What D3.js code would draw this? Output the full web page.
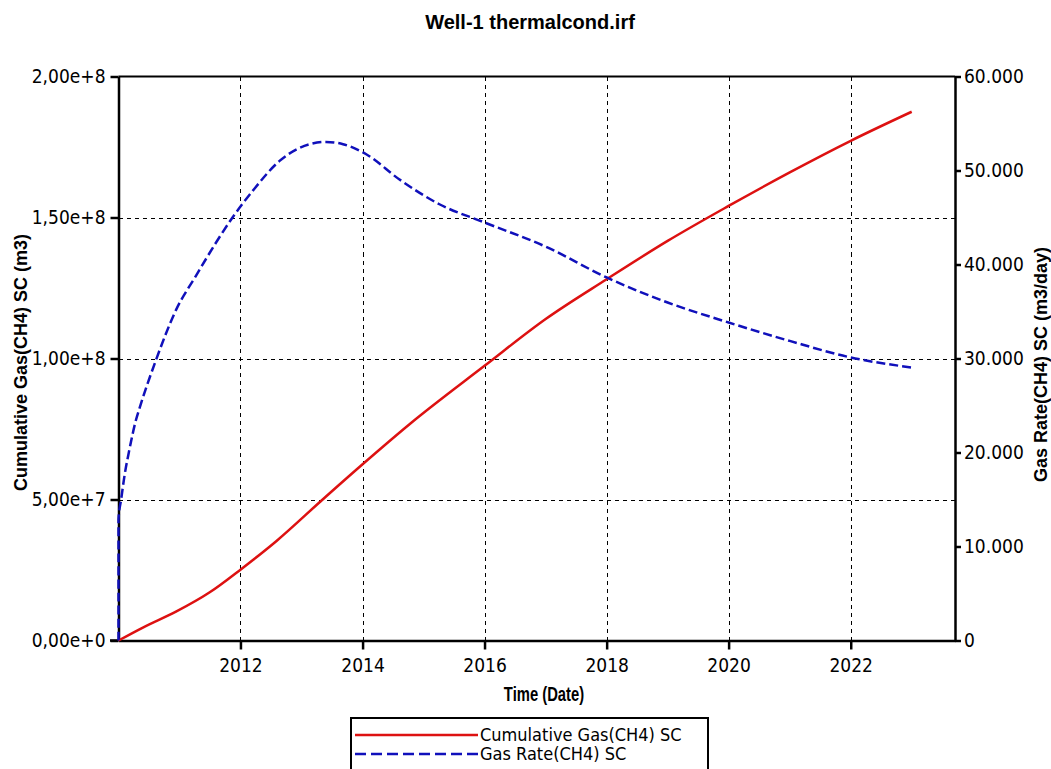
<!DOCTYPE html>
<html>
<head>
<meta charset="utf-8">
<script src="https://cdn.jsdelivr.net/npm/d3@7"></script>
<style>
  html, body { margin: 0; padding: 0; background: #fff; }
  svg { display: block; }
  .tick-label { font-family: "DejaVu Sans Condensed", "Liberation Sans", sans-serif; font-size: 19px; fill: #000; }
  .axis-title { font-family: "Liberation Sans", Arial, sans-serif; font-weight: bold; font-size: 18px; fill: #000; }
  .bold-label { font-family: "Liberation Sans", Arial, sans-serif; font-weight: bold; fill: #000; }
</style>
</head>
<body>
<svg id="chart" width="1051" height="769"></svg>
<script>
// Simulation output for Well-1 (thermal conductivity case)
const chartTitle = "Well-1 thermalcond.irf";

// Cumulative gas (CH4) at surface conditions, m3 — time in decimal years
const cumTimes  = [2010.0, 2010.4, 2010.95, 2011.49, 2012.01, 2012.59, 2013.35, 2014.0, 2014.77,
                   2016.0, 2017.0, 2018.0, 2019.0, 2020.0, 2021.0, 2022.0, 2023.0];
const cumValues = [0, 4.6e6, 1.03e7, 1.70e7, 2.53e7, 3.53e7, 5.01e7, 6.25e7, 7.67e7,
                   9.74e7, 1.14e8, 1.281e8, 1.417e8, 1.541e8, 1.66e8, 1.772e8, 1.875e8];

// Gas rate (CH4) at surface conditions, m3/day
const rateTimes  = [2010.0, 2010.0, 2010.044, 2010.098, 2010.18, 2010.29, 2010.34, 2010.62, 2010.95,
                    2011.27, 2011.6, 2011.87, 2012.2, 2012.64, 2013.13, 2013.4, 2013.68, 2014.06,
                    2014.6, 2015.26, 2016.0, 2017.0, 2018.0, 2019.0, 2020.0, 2021.0, 2022.0, 2023.0];
const rateValues = [0, 12900, 15030, 17510, 20350, 23540, 24610, 29930, 35250,
                    38790, 42340, 45000, 47830, 51020, 52800, 53040, 52800, 51730,
                    49070, 46410, 44470, 41900, 38620, 35960, 33830, 31870, 30110, 29040];

// Axis ticks
const yearTicks = [2012, 2014, 2016, 2018, 2020, 2022];
const cumTicks  = [0, 5e7, 1e8, 1.5e8, 2e8];
const rateTicks = [0, 10000, 20000, 30000, 40000, 50000, 60000];

const legendLabels = ["Cumulative Gas(CH4) SC", "Gas Rate(CH4) SC"];

// decimal year -> Date
function yearToDate(y) {
  const yr = Math.floor(y);
  const start = new Date(yr, 0, 1), end = new Date(yr + 1, 0, 1);
  return new Date(start.getTime() + (y - yr) * (end - start));
}

const svg = d3.select("#chart");
const plot = { left: 118.5, right: 955, top: 76.5, bottom: 640.5 };

const x = d3.scaleTime()
  .domain([yearToDate(2010), yearToDate(2023.71)])
  .range([plot.left, plot.right]);
const yCum = d3.scaleLinear().domain([0, 2e8]).range([plot.bottom, plot.top]);
const yRate = d3.scaleLinear().domain([0, 60000]).range([plot.bottom, plot.top]);

// Title
svg.append("text")
  .attr("class", "bold-label")
  .attr("x", 530).attr("y", 29)
  .attr("text-anchor", "middle")
  .style("font-size", "20px")
  .text(chartTitle);

// Grid lines
const grid = svg.append("g").attr("stroke", "#000").attr("stroke-width", 1)
  .attr("stroke-dasharray", "4,4").attr("shape-rendering", "crispEdges");
grid.selectAll("line.v").data(yearTicks).join("line")
  .attr("x1", d => Math.round(x(yearToDate(d))) + 0.5).attr("x2", d => Math.round(x(yearToDate(d))) + 0.5)
  .attr("y1", plot.top).attr("y2", plot.bottom);
grid.selectAll("line.h").data(cumTicks.filter(d => d > 0 && d < 2e8)).join("line")
  .attr("x1", plot.left).attr("x2", plot.right)
  .attr("y1", d => Math.round(yCum(d)) + 0.5).attr("y2", d => Math.round(yCum(d)) + 0.5);

// Axes
const fmtCum = d => d3.format(".2e")(d).replace(".", ",");
const fmtRate = d => d === 0 ? "0" : d3.format(",")(d).replace(",", ".");

function styleAxis(g) {
  g.select(".domain").attr("stroke", "#000").attr("stroke-width", 2.5);
  g.selectAll(".tick line").attr("stroke", "#000").attr("stroke-width", 2.5);
  g.selectAll(".tick text").attr("class", "tick-label").attr("fill", "#000");
}

svg.append("g")
  .attr("transform", `translate(${plot.left},0)`)
  .call(d3.axisLeft(yCum).tickValues(cumTicks).tickFormat(fmtCum).tickSizeInner(8).tickSizeOuter(0).tickPadding(5))
  .call(styleAxis);

svg.append("g")
  .attr("transform", `translate(${plot.right},0)`)
  .call(d3.axisRight(yRate).tickValues(rateTicks).tickFormat(fmtRate).tickSizeInner(6).tickSizeOuter(0).tickPadding(3))
  .call(styleAxis);

const xAxis = svg.append("g")
  .attr("transform", `translate(0,${plot.bottom})`)
  .call(d3.axisBottom(x).tickValues(yearTicks.map(yearToDate)).tickFormat(d3.timeFormat("%Y")).tickSizeInner(9).tickSizeOuter(0).tickPadding(9))
  .call(styleAxis);
// extend bottom axis line left past the corner
xAxis.append("line").attr("x1", 110).attr("x2", plot.left).attr("y1", 0).attr("y2", 0)
  .attr("stroke", "#000").attr("stroke-width", 2.5);

// top frame line
svg.append("line").attr("x1", plot.left).attr("x2", plot.right)
  .attr("y1", plot.top).attr("y2", plot.top).attr("stroke", "#000").attr("stroke-width", 2);

// Axis titles
svg.append("text").attr("class", "axis-title")
  .attr("transform", `translate(27,${(plot.top + plot.bottom) / 2 + 4}) rotate(-90)`)
  .attr("text-anchor", "middle")
  .text("Cumulative Gas(CH4) SC (m3)");

svg.append("text").attr("class", "axis-title")
  .attr("transform", `translate(1047,${(plot.top + plot.bottom) / 2 + 6}) rotate(-90)`)
  .attr("text-anchor", "middle")
  .text("Gas Rate(CH4) SC (m3/day)");

svg.append("text").attr("class", "bold-label")
  .attr("transform", "translate(544,701) scale(0.74,1)")
  .attr("text-anchor", "middle")
  .style("font-size", "20px")
  .text("Time (Date)");

// Series
const cumLine = d3.line().x(d => x(yearToDate(d[0]))).y(d => yCum(d[1])).curve(d3.curveMonotoneX);
const rateLine = d3.line().x(d => x(yearToDate(d[0]))).y(d => yRate(d[1])).curve(d3.curveMonotoneX);

svg.append("path")
  .datum(cumTimes.map((t, i) => [t, cumValues[i]]))
  .attr("fill", "none").attr("stroke", "#dd1111").attr("stroke-width", 2.5)
  .attr("d", cumLine);

svg.append("path")
  .datum(rateTimes.map((t, i) => [t, rateValues[i]]))
  .attr("fill", "none").attr("stroke", "#1010bb").attr("stroke-width", 2.5)
  .attr("stroke-dasharray", "9,4")
  .attr("d", rateLine);

// Legend
const legend = svg.append("g");
legend.append("rect")
  .attr("x", 351).attr("y", 718).attr("width", 357).attr("height", 60)
  .attr("fill", "#fff").attr("stroke", "#000").attr("stroke-width", 2);
const legendStyles = [
  { color: "#dd1111", dash: null },
  { color: "#1010bb", dash: "11,5" }
];
legendLabels.forEach((label, i) => {
  const yy = 735 + i * 19;
  legend.append("line")
    .attr("x1", 355).attr("x2", 478).attr("y1", yy).attr("y2", yy)
    .attr("stroke", legendStyles[i].color).attr("stroke-width", 2.5)
    .attr("stroke-dasharray", legendStyles[i].dash);
  legend.append("text").attr("class", "tick-label")
    .attr("x", 480).attr("y", yy + 6)
    .style("font-size", "18px")
    .text(label);
});
</script>
</body>
</html>
